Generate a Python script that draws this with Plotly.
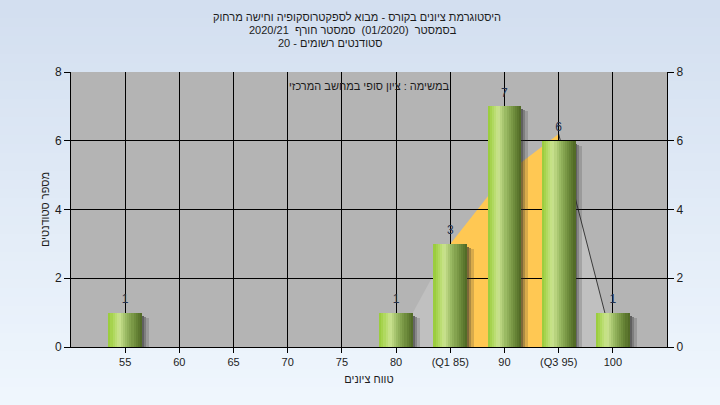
import numpy as np
import plotly.graph_objects as go

# ---------------- data ----------------
grade_bins = [55, 60, 65, 70, 75, 80, 85, 90, 95, 100]
tick_labels = ["55", "60", "65", "70", "75", "80", "(Q1 85)", "90", "(Q3 95)", "100"]
student_counts = [1, 0, 0, 0, 0, 1, 3, 7, 6, 1]

curve_x_left = [80, 85]
curve_y_left = [0.1, 3]
curve_x_mid = [85, 90, 95]
curve_y_mid = [3, 5, 6.2]
curve_x_right = [95, 100]
curve_y_right = [6.2, 0.1]

title_lines = [
    "היסטוגרמת ציונים בקורס - מבוא לספקטרוסקופיה וחישה מרחוק",
    "בסמסטר  (01/2020)  סמסטר חורף  2020/21",
    "20 - סטודנטים רשומים",
]
note_text = "במשימה : ציון סופי במחשב המרכזי"
x_title = "טווח ציונים"
y_title = "מספר סטודנטים"

# ---------------- layout geometry ----------------
W_PX, H_PX = 720, 405
L, R, T, B = 71, 53, 72, 58
pw, ph = W_PX - L - R, H_PX - T - B
x_range = [50, 105]
y_range = [0, 8]
ux = (x_range[1] - x_range[0]) / pw   # data units per px (x)
uy = (y_range[1] - y_range[0]) / ph   # data units per px (y)

FONT = "Liberation Sans, Arial, sans-serif"
FS = 11
TXT = "#1c1c1c"

fig = go.Figure()

vals = np.array(student_counts, dtype=float)
bar_w = 3.1

# shadows (to the right of each bar)
shadow_specs = [(0, 2, 0.6, 3), (2, 2, 0.38, 4), (4, 3, 0.18, 5)]
for off_px, w_px, alpha, drop_px in shadow_specs:
    sy = np.where(vals > 0, vals - drop_px * uy, 0)
    fig.add_trace(go.Bar(
        x=grade_bins, y=sy, width=w_px * ux, offset=bar_w / 2 + off_px * ux,
        marker=dict(color=f"rgba(40,40,40,{alpha})", line=dict(width=0)),
        hoverinfo="skip", showlegend=False))

# cylinder-like gradient bars as vertical strips
stops = [(0.0, (150, 202, 55)), (0.12, (170, 214, 85)), (0.32, (204, 228, 145)),
         (0.55, (150, 182, 95)), (0.8, (108, 138, 58)), (1.0, (78, 102, 36))]


def grad(t):
    for (t0, c0), (t1, c1) in zip(stops[:-1], stops[1:]):
        if t0 <= t <= t1:
            f = (t - t0) / (t1 - t0)
            return "rgb(%d,%d,%d)" % tuple(round(a + (b - a) * f) for a, b in zip(c0, c1))
    return "rgb(%d,%d,%d)" % stops[-1][1]


N = 16
sw = bar_w / N
for i in range(N):
    fig.add_trace(go.Bar(
        x=grade_bins, y=vals, width=sw * 1.08, offset=-bar_w / 2 + i * sw,
        marker=dict(color=grad((i + 0.5) / N), line=dict(width=0)),
        hoverinfo="skip", showlegend=False))

# value labels
fig.add_trace(go.Scatter(
    x=grade_bins, y=vals, mode="markers+text",
    marker=dict(size=9, opacity=0),
    text=[str(v) if v > 0 else "" for v in student_counts],
    textposition="top center",
    textfont=dict(family=FONT, size=12, color="#24304c"),
    hoverinfo="skip", showlegend=False, cliponaxis=False))

# invisible trace for right axis
fig.add_trace(go.Scatter(x=[grade_bins[0]], y=[0], yaxis="y2", mode="markers",
                         marker=dict(opacity=0), hoverinfo="skip", showlegend=False))

# ---------------- shapes ----------------
shapes = []
x0p, x1p = -L / pw, (W_PX - L) / pw
nb = 45
top_c = np.array([211, 223, 240])
bot_c = np.array([240, 247, 254])
for k in range(nb):
    y_top_px = k * H_PX / nb
    y_bot_px = (k + 1) * H_PX / nb + 0.5
    c = top_c + (bot_c - top_c) * (k + 0.5) / nb
    shapes.append(dict(type="rect", xref="paper", yref="paper", layer="below",
                       x0=x0p, x1=x1p,
                       y0=(T + ph - y_bot_px) / ph, y1=(T + ph - y_top_px) / ph,
                       fillcolor="rgb(%d,%d,%d)" % tuple(c), line=dict(width=0)))
shapes.append(dict(type="rect", xref="paper", yref="paper", layer="below",
                   x0=0, x1=1, y0=0, y1=1, fillcolor="#b4b4b4", line=dict(width=0)))


def area_path(xs, ys):
    p = f"M {xs[0]},0 "
    for a, b in zip(xs, ys):
        p += f"L {a},{b} "
    p += f"L {xs[-1]},0 Z"
    return p


shapes.append(dict(type="path", xref="x", yref="y", layer="below",
                   path=area_path(curve_x_left, curve_y_left),
                   fillcolor="#c0c0c0", line=dict(width=0)))
shapes.append(dict(type="path", xref="x", yref="y", layer="below",
                   path=area_path(curve_x_right, curve_y_right),
                   fillcolor="#c0c0c0", line=dict(width=0)))
shapes.append(dict(type="path", xref="x", yref="y", layer="below",
                   path=area_path(curve_x_mid, curve_y_mid),
                   fillcolor="#ffc853", line=dict(width=0)))
shapes.append(dict(type="line", xref="x", yref="y", layer="below",
                   x0=curve_x_right[0], y0=curve_y_right[0],
                   x1=curve_x_right[1], y1=curve_y_right[1],
                   line=dict(color="#3a3a3a", width=1)))

# ---------------- annotations ----------------
ann = []
title_px = [(17, 357), (30, 353), (43, 330)]
for line, (ypx, xpx) in zip(title_lines, title_px):
    ann.append(dict(text=line, xref="paper", yref="paper",
                    x=(xpx - L) / pw, y=(T + ph - ypx) / ph,
                    xanchor="center", yanchor="middle", showarrow=False,
                    font=dict(family=FONT, size=FS, color=TXT)))
ann.append(dict(text=note_text, xref="paper", yref="paper",
                x=(369 - L) / pw, y=(T + ph - 86) / ph,
                xanchor="center", yanchor="middle", showarrow=False,
                font=dict(family=FONT, size=FS, color=TXT)))

axis_common = dict(showline=True, linecolor="black", linewidth=1,
                   ticks="outside", tickcolor="black", ticklen=6, tickwidth=1,
                   tickfont=dict(family=FONT, size=12, color=TXT))

fig.update_layout(
    width=W_PX, height=H_PX,
    margin=dict(l=L, r=R, t=T, b=B, pad=0),
    paper_bgcolor="#e4edf8", plot_bgcolor="rgba(0,0,0,0)",
    barmode="overlay", bargap=0,
    showlegend=False,
    shapes=shapes, annotations=ann,
    xaxis=dict(range=x_range, tickmode="array", tickvals=grade_bins, ticktext=tick_labels,
               showgrid=True, gridcolor="black", gridwidth=1, zeroline=False,
               title=dict(text=x_title, font=dict(family=FONT, size=FS, color=TXT), standoff=8),
               **{**axis_common, "ticklen": 5, "tickfont": dict(family=FONT, size=FS, color=TXT)}),
    yaxis=dict(range=y_range, tickmode="linear", tick0=0, dtick=2,
               showgrid=True, gridcolor="black", gridwidth=1, zeroline=False,
               title=dict(text=y_title, font=dict(family=FONT, size=FS, color=TXT), standoff=3),
               **axis_common),
    yaxis2=dict(range=y_range, tickmode="linear", tick0=0, dtick=2, overlaying="y",
                side="right", showgrid=False, zeroline=False, **axis_common),
)

fig.write_html("out.html", config={"displayModeBar": False},
               post_script="document.body.style.margin='0';document.body.style.padding='0';")
